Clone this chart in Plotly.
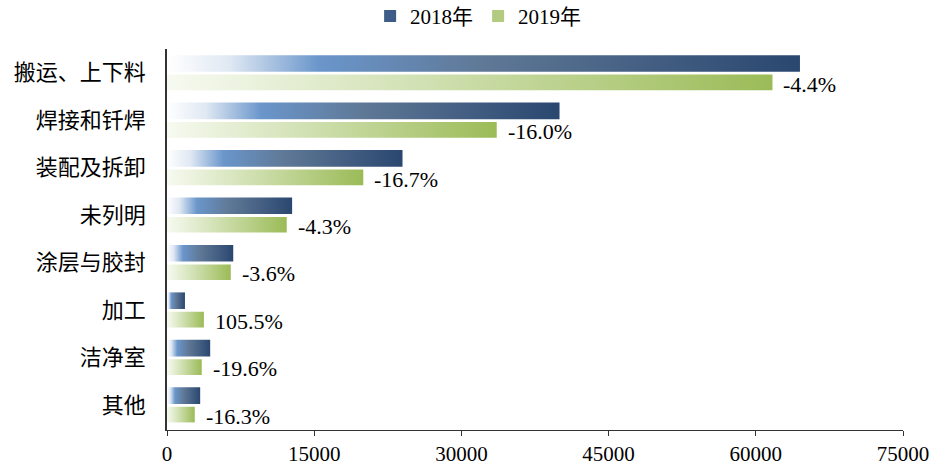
import plotly.graph_objects as go

categories = ["搬运、上下料", "焊接和钎焊", "装配及拆卸", "未列明", "涂层与胶封", "加工", "洁净室", "其他"]
values_2018 = [64500, 40000, 24000, 12750, 6750, 1830, 4400, 3380]
values_2019 = [61700, 33600, 20000, 12200, 6500, 3760, 3540, 2830]
growth_labels = ["-4.4%", "-16.0%", "-16.7%", "-4.3%", "-3.6%", "105.5%", "-19.6%", "-16.3%"]
series_names = ["2018年", "2019年"]
x_ticks = [0, 15000, 30000, 45000, 60000, 75000]

blue_scale = [[0, "#ffffff"], [0.1, "#dfe8f3"], [0.24, "#6a96cb"], [0.5, "#5f7896"], [1, "#2a4770"]]
green_scale = [[0, "#f7faf1"], [0.4, "#d3e2b6"], [1, "#9bbb57"]]
legend_colors = ["#3d5d88", "#b2cb80"]

BAR_SPANS = [(-0.37, -0.02), (0.04, 0.37)]

fig = go.Figure()
for s, (vals, scale, name) in enumerate([(values_2018, blue_scale, series_names[0]),
                                          (values_2019, green_scale, series_names[1])]):
    lo, hi = BAR_SPANS[s]
    for i, v in enumerate(vals):
        y0, y1 = i + lo, i + hi
        fig.add_trace(go.Scatter(
            x=[0, v, v, 0, 0], y=[y0, y0, y1, y1, y0],
            mode="lines", fill="toself",
            line=dict(width=0, color=scale[-1][1]),
            fillgradient=dict(type="horizontal", colorscale=scale),
            name=name, showlegend=False,
            hoverinfo="skip",
        ))

# legend-only entries (square swatches)
for name, col in zip(series_names, legend_colors):
    fig.add_trace(go.Bar(x=[None], y=[None], orientation="h", name=name,
                         marker=dict(color=col, line=dict(width=0)), showlegend=True))

for i, (v, lab) in enumerate(zip(values_2019, growth_labels)):
    fig.add_annotation(x=v, y=i + 0.24, text=lab, showarrow=False, xanchor="left",
                       xshift=9, font=dict(family="Liberation Serif", size=22, color="#000000"))

fig.update_layout(
    width=932, height=466,
    margin=dict(l=167, r=29, t=49, b=36, autoexpand=False),
    plot_bgcolor="white", paper_bgcolor="white",
    showlegend=True,
    legend=dict(orientation="h", xref="container", yref="container", x=0.513, xanchor="center",
                y=0.965, yanchor="middle", font=dict(family="Liberation Serif, Noto Sans CJK SC", size=21, color="#000000"),
                itemwidth=30, traceorder="normal"),
    xaxis=dict(range=[0, 75000], tickvals=x_ticks, ticktext=[str(t) for t in x_ticks],
               showgrid=False, zeroline=False, showline=True, linecolor="#333333", linewidth=1,
               ticks="outside", ticklen=5, tickcolor="#333333",
               tickfont=dict(family="Liberation Serif", size=21, color="#000000")),
    yaxis=dict(range=[7.53, -0.5], tickvals=list(range(len(categories))), ticktext=categories,
               showgrid=False, zeroline=False, showline=True, linecolor="#333333", linewidth=1.5,
               ticks="", ticklabelstandoff=15,
               tickfont=dict(family="Noto Sans CJK SC", size=22, color="#000000")),
)

fig.write_html("out.html", config={"displayModeBar": False},
               post_script="document.body.style.margin='0';document.body.style.overflow='hidden';")
